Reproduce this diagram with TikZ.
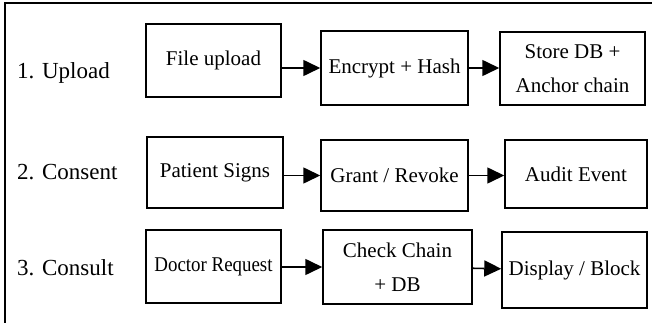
\documentclass[tikz,border=0pt]{standalone}
\usepackage{fontspec}
\setmainfont{Liberation Serif}
\usetikzlibrary{arrows.meta}
\tikzset{
  stage/.style={draw, line width=1.5pt, inner sep=0pt, align=center,
    font=\fontsize{21}{34}\selectfont},
  rowlabel/.style={anchor=west, inner sep=0pt, font=\fontsize{23}{28}\selectfont},
  flow/.style={line width=1.6pt, -{Triangle[length=17pt,width=16pt]}}
}
\begin{document}
\begin{tikzpicture}[x=1pt,y=-1pt]
\useasboundingbox (0,0) rectangle (652,323);
\draw[line width=2.6pt] (652,3) -- (5,3) -- (5,323);
%
\node[rowlabel] (l1) at (17,73) {1. Upload};
\node[rowlabel] (l2) at (17,172) {2. Consent};
\node[rowlabel] (l3) at (17,268) {3. Consult};
%
\node[stage,minimum width=135,minimum height=73] (fu) at (213.5,60.5) {File upload};
\node[stage,minimum width=147,minimum height=74] (eh) at (394.5,68) {Encrypt + Hash};
\node[stage,minimum width=145,minimum height=73] (sd) at (572.5,68.5) {Store DB +\\Anchor chain};
%
\node[stage,minimum width=136,minimum height=71] (ps) at (215,172.5) {Patient Signs};
\node[stage,minimum width=147,minimum height=71] (gr) at (394.5,175.5) {Grant / Revoke};
\node[stage,minimum width=142,minimum height=68] (ae) at (576,174) {Audit Event};
%
\node[stage,minimum width=135,minimum height=73] (dr) at (213.5,266.5) {\scalebox{0.9}[1]{Doctor Request}};
\node[stage,minimum width=149,minimum height=74] (cc) at (397.5,267) {Check Chain\\+ DB};
\node[stage,minimum width=145,minimum height=76] (db) at (574.5,270) {Display / Block};
%
\draw[flow] (fu.east |- eh) -- (eh);
\draw[flow] (eh) -- (sd.west |- eh);
\draw[flow] (ps.east |- gr) -- (gr);
\draw[flow] (gr) -- (ae.west |- gr);
\draw[flow] (dr.east |- cc) -- (cc);
\draw[flow] (cc) -- (db);
\end{tikzpicture}
\end{document}
